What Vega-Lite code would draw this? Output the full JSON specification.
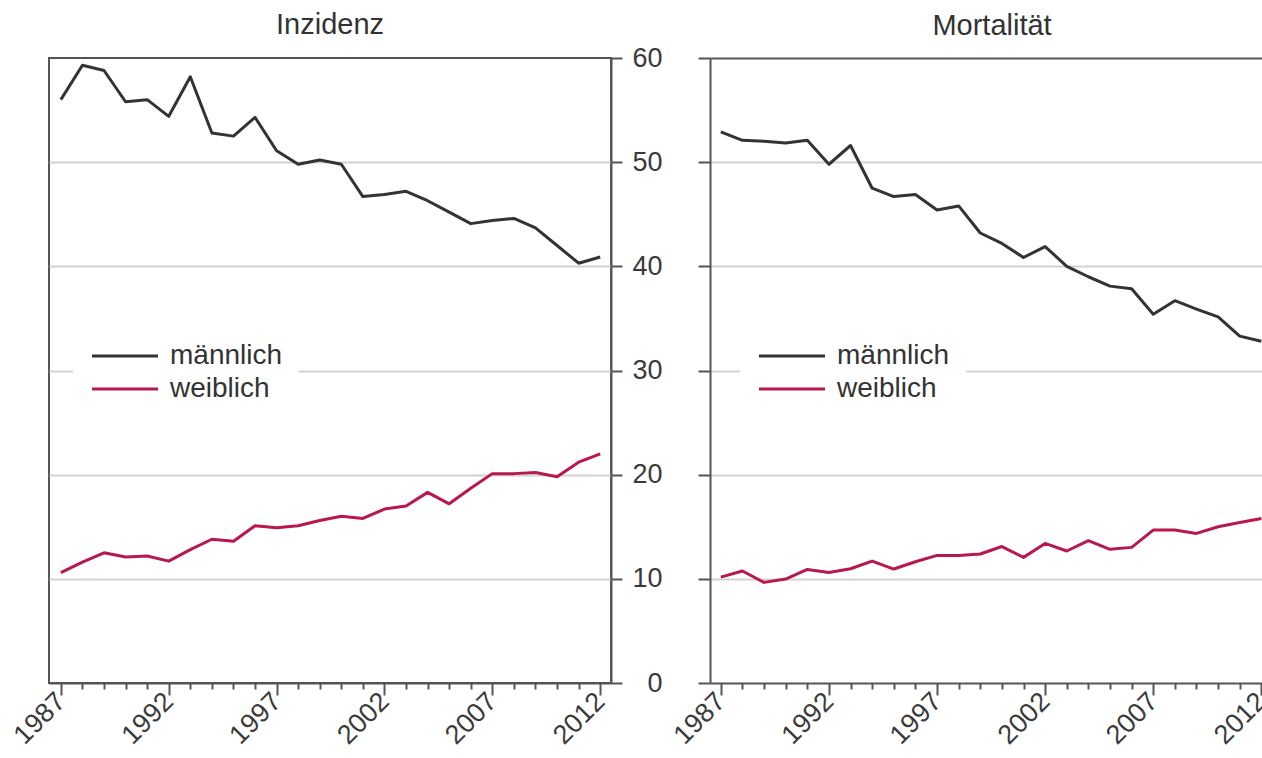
{
  "$schema": "https://vega.github.io/schema/vega-lite/v6.json",
  "background": "white",
  "padding": {"left": 7, "top": 10, "right": 0, "bottom": 0},
  "config": {
    "font": "Liberation Sans",
    "view": {"stroke": null},
    "axis": {
      "domainColor": "#555555", "domainWidth": 2, "tickColor": "#555555", "tickWidth": 2,
      "labelColor": "#3a3a3a", "labelFont": "Liberation Sans", "labelFontSize": 27,
      "gridColor": "#d2d2d2", "gridWidth": 2, "title": null
    },
    "title": {"fontSize": 29, "fontWeight": "normal", "color": "#333333", "font": "Liberation Sans", "anchor": "middle", "frame": "group"}
  },
  "datasets": {
    "inzidenz": [
      {"Jahr":1987,"Geschlecht":"männlich","Wert":56.0},{"Jahr":1988,"Geschlecht":"männlich","Wert":59.3},{"Jahr":1989,"Geschlecht":"männlich","Wert":58.8},{"Jahr":1990,"Geschlecht":"männlich","Wert":55.8},{"Jahr":1991,"Geschlecht":"männlich","Wert":56.0},{"Jahr":1992,"Geschlecht":"männlich","Wert":54.4},{"Jahr":1993,"Geschlecht":"männlich","Wert":58.2},{"Jahr":1994,"Geschlecht":"männlich","Wert":52.8},{"Jahr":1995,"Geschlecht":"männlich","Wert":52.5},{"Jahr":1996,"Geschlecht":"männlich","Wert":54.3},{"Jahr":1997,"Geschlecht":"männlich","Wert":51.1},{"Jahr":1998,"Geschlecht":"männlich","Wert":49.8},{"Jahr":1999,"Geschlecht":"männlich","Wert":50.2},{"Jahr":2000,"Geschlecht":"männlich","Wert":49.8},{"Jahr":2001,"Geschlecht":"männlich","Wert":46.7},{"Jahr":2002,"Geschlecht":"männlich","Wert":46.9},{"Jahr":2003,"Geschlecht":"männlich","Wert":47.2},{"Jahr":2004,"Geschlecht":"männlich","Wert":46.3},{"Jahr":2005,"Geschlecht":"männlich","Wert":45.2},{"Jahr":2006,"Geschlecht":"männlich","Wert":44.1},{"Jahr":2007,"Geschlecht":"männlich","Wert":44.4},{"Jahr":2008,"Geschlecht":"männlich","Wert":44.6},{"Jahr":2009,"Geschlecht":"männlich","Wert":43.7},{"Jahr":2010,"Geschlecht":"männlich","Wert":42.0},{"Jahr":2011,"Geschlecht":"männlich","Wert":40.3},{"Jahr":2012,"Geschlecht":"männlich","Wert":40.9},
      {"Jahr":1987,"Geschlecht":"weiblich","Wert":10.6},{"Jahr":1988,"Geschlecht":"weiblich","Wert":11.6},{"Jahr":1989,"Geschlecht":"weiblich","Wert":12.5},{"Jahr":1990,"Geschlecht":"weiblich","Wert":12.1},{"Jahr":1991,"Geschlecht":"weiblich","Wert":12.2},{"Jahr":1992,"Geschlecht":"weiblich","Wert":11.7},{"Jahr":1993,"Geschlecht":"weiblich","Wert":12.8},{"Jahr":1994,"Geschlecht":"weiblich","Wert":13.8},{"Jahr":1995,"Geschlecht":"weiblich","Wert":13.6},{"Jahr":1996,"Geschlecht":"weiblich","Wert":15.1},{"Jahr":1997,"Geschlecht":"weiblich","Wert":14.9},{"Jahr":1998,"Geschlecht":"weiblich","Wert":15.1},{"Jahr":1999,"Geschlecht":"weiblich","Wert":15.6},{"Jahr":2000,"Geschlecht":"weiblich","Wert":16.0},{"Jahr":2001,"Geschlecht":"weiblich","Wert":15.8},{"Jahr":2002,"Geschlecht":"weiblich","Wert":16.7},{"Jahr":2003,"Geschlecht":"weiblich","Wert":17.0},{"Jahr":2004,"Geschlecht":"weiblich","Wert":18.3},{"Jahr":2005,"Geschlecht":"weiblich","Wert":17.2},{"Jahr":2006,"Geschlecht":"weiblich","Wert":18.7},{"Jahr":2007,"Geschlecht":"weiblich","Wert":20.1},{"Jahr":2008,"Geschlecht":"weiblich","Wert":20.1},{"Jahr":2009,"Geschlecht":"weiblich","Wert":20.2},{"Jahr":2010,"Geschlecht":"weiblich","Wert":19.8},{"Jahr":2011,"Geschlecht":"weiblich","Wert":21.2},{"Jahr":2012,"Geschlecht":"weiblich","Wert":22.0}
    ],
    "mortalitaet": [
      {"Jahr":1987,"Geschlecht":"männlich","Wert":52.9},{"Jahr":1988,"Geschlecht":"männlich","Wert":52.1},{"Jahr":1989,"Geschlecht":"männlich","Wert":52.0},{"Jahr":1990,"Geschlecht":"männlich","Wert":51.85},{"Jahr":1991,"Geschlecht":"männlich","Wert":52.1},{"Jahr":1992,"Geschlecht":"männlich","Wert":49.8},{"Jahr":1993,"Geschlecht":"männlich","Wert":51.6},{"Jahr":1994,"Geschlecht":"männlich","Wert":47.5},{"Jahr":1995,"Geschlecht":"männlich","Wert":46.7},{"Jahr":1996,"Geschlecht":"männlich","Wert":46.9},{"Jahr":1997,"Geschlecht":"männlich","Wert":45.4},{"Jahr":1998,"Geschlecht":"männlich","Wert":45.8},{"Jahr":1999,"Geschlecht":"männlich","Wert":43.2},{"Jahr":2000,"Geschlecht":"männlich","Wert":42.2},{"Jahr":2001,"Geschlecht":"männlich","Wert":40.85},{"Jahr":2002,"Geschlecht":"männlich","Wert":41.9},{"Jahr":2003,"Geschlecht":"männlich","Wert":40.0},{"Jahr":2004,"Geschlecht":"männlich","Wert":39.0},{"Jahr":2005,"Geschlecht":"männlich","Wert":38.1},{"Jahr":2006,"Geschlecht":"männlich","Wert":37.85},{"Jahr":2007,"Geschlecht":"männlich","Wert":35.4},{"Jahr":2008,"Geschlecht":"männlich","Wert":36.7},{"Jahr":2009,"Geschlecht":"männlich","Wert":35.9},{"Jahr":2010,"Geschlecht":"männlich","Wert":35.15},{"Jahr":2011,"Geschlecht":"männlich","Wert":33.3},{"Jahr":2012,"Geschlecht":"männlich","Wert":32.8},
      {"Jahr":1987,"Geschlecht":"weiblich","Wert":10.16},{"Jahr":1988,"Geschlecht":"weiblich","Wert":10.75},{"Jahr":1989,"Geschlecht":"weiblich","Wert":9.66},{"Jahr":1990,"Geschlecht":"weiblich","Wert":9.98},{"Jahr":1991,"Geschlecht":"weiblich","Wert":10.9},{"Jahr":1992,"Geschlecht":"weiblich","Wert":10.6},{"Jahr":1993,"Geschlecht":"weiblich","Wert":10.97},{"Jahr":1994,"Geschlecht":"weiblich","Wert":11.7},{"Jahr":1995,"Geschlecht":"weiblich","Wert":10.94},{"Jahr":1996,"Geschlecht":"weiblich","Wert":11.64},{"Jahr":1997,"Geschlecht":"weiblich","Wert":12.25},{"Jahr":1998,"Geschlecht":"weiblich","Wert":12.25},{"Jahr":1999,"Geschlecht":"weiblich","Wert":12.38},{"Jahr":2000,"Geschlecht":"weiblich","Wert":13.1},{"Jahr":2001,"Geschlecht":"weiblich","Wert":12.06},{"Jahr":2002,"Geschlecht":"weiblich","Wert":13.4},{"Jahr":2003,"Geschlecht":"weiblich","Wert":12.67},{"Jahr":2004,"Geschlecht":"weiblich","Wert":13.66},{"Jahr":2005,"Geschlecht":"weiblich","Wert":12.83},{"Jahr":2006,"Geschlecht":"weiblich","Wert":13.02},{"Jahr":2007,"Geschlecht":"weiblich","Wert":14.68},{"Jahr":2008,"Geschlecht":"weiblich","Wert":14.68},{"Jahr":2009,"Geschlecht":"weiblich","Wert":14.36},{"Jahr":2010,"Geschlecht":"weiblich","Wert":15.0},{"Jahr":2011,"Geschlecht":"weiblich","Wert":15.4},{"Jahr":2012,"Geschlecht":"weiblich","Wert":15.8}
    ]
  },
  "spacing": 99,
  "bounds": "flush",
  "resolve": {"scale": {"color": "independent"}},
  "hconcat": [
    {
      "width": 562,
      "height": 625,
      "title": {"text": "Inzidenz", "offset": 4},
      "view": {"stroke": "#555555", "strokeWidth": 2},
      "data": {"name": "inzidenz"},
      "mark": {"type": "line", "strokeWidth": 3, "strokeJoin": "round"},
      "encoding": {
        "x": {
          "field": "Jahr", "type": "quantitative",
          "scale": {"domain": [1986.45, 2012.5], "nice": false, "zero": false},
          "axis": {
            "values": [1987,1988,1989,1990,1991,1992,1993,1994,1995,1996,1997,1998,1999,2000,2001,2002,2003,2004,2005,2006,2007,2008,2009,2010,2011,2012],
            "format": "d",
            "labelExpr": "(datum.value - 1987) % 5 == 0 ? datum.label : ''",
            "tickSize": {"condition": {"test": "(datum.value - 1987) % 5 == 0", "value": 12}, "value": 6},
            "labelAngle": -45, "labelAlign": "right", "labelBaseline": "middle", "labelPadding": 2,
            "labelOverlap": false, "labelBound": false, "labelFlush": false, "grid": false
          }
        },
        "y": {
          "field": "Wert", "type": "quantitative",
          "scale": {"domain": [0, 60], "nice": false},
          "axis": {
            "orient": "right", "values": [0,10,20,30,40,50,60], "tickSize": 11,
            "labelAlign": "right", "labelPadding": 40, "grid": true,
            "gridOpacity": {"condition": {"test": "datum.value == 0 || datum.value == 60", "value": 0}, "value": 1}
          }
        },
        "color": {
          "field": "Geschlecht", "type": "nominal",
          "scale": {"domain": ["männlich", "weiblich"], "range": ["#333333", "#b8174f"]},
          "legend": {
            "orient": "none", "legendX": 24, "legendY": 268, "title": null,
            "symbolType": "M-1,0H5", "symbolSize": 484, "symbolStrokeWidth": 3,
            "labelOffset": 53, "labelFontSize": 28, "labelColor": "#333333", "labelFont": "Liberation Sans",
            "fillColor": "white", "padding": 16, "rowPadding": 5
          }
        }
      }
    },
    {
      "width": 552,
      "height": 625,
      "title": {"text": "Mortalität", "offset": 16, "dx": 6},
      "view": {"stroke": null},
      "data": {"name": "mortalitaet"},
      "layer": [
        {
          "mark": {"type": "line", "strokeWidth": 3, "strokeJoin": "round"},
          "encoding": {
            "x": {
              "field": "Jahr", "type": "quantitative",
              "scale": {"domain": [1986.5, 2012.03], "nice": false, "zero": false},
              "axis": {
                "values": [1987,1988,1989,1990,1991,1992,1993,1994,1995,1996,1997,1998,1999,2000,2001,2002,2003,2004,2005,2006,2007,2008,2009,2010,2011,2012],
                "format": "d",
                "labelExpr": "(datum.value - 1987) % 5 == 0 ? datum.label : ''",
                "tickSize": {"condition": {"test": "(datum.value - 1987) % 5 == 0", "value": 12}, "value": 6},
                "labelAngle": -45, "labelAlign": "right", "labelBaseline": "middle", "labelPadding": 2,
                "labelOverlap": false, "labelBound": false, "labelFlush": false, "grid": false
              }
            },
            "y": {
              "field": "Wert", "type": "quantitative",
              "scale": {"domain": [0, 60], "nice": false},
              "axis": {
                "orient": "left", "values": [0,10,20,30,40,50,60], "tickSize": 12,
                "labels": false, "grid": true,
                "gridOpacity": {"condition": {"test": "datum.value == 0 || datum.value == 60", "value": 0}, "value": 1}
              }
            },
            "color": {
              "field": "Geschlecht", "type": "nominal",
              "scale": {"domain": ["männlich", "weiblich"], "range": ["#333333", "#b8174f"]},
              "legend": {
                "orient": "none", "legendX": 30, "legendY": 268, "title": null,
                "symbolType": "M-1,0H5", "symbolSize": 484, "symbolStrokeWidth": 3,
                "labelOffset": 53, "labelFontSize": 28, "labelColor": "#333333", "labelFont": "Liberation Sans",
                "fillColor": "white", "padding": 16, "rowPadding": 5
              }
            }
          }
        },
        {
          "mark": {"type": "rule", "strokeOpacity": 0},
          "encoding": {
            "x": {
              "field": "Jahr", "type": "quantitative",
              "axis": {"orient": "top", "domain": true, "ticks": false, "labels": false, "grid": false}
            }
          }
        }
      ],
      "resolve": {"axis": {"x": "independent"}}
    }
  ]
}
